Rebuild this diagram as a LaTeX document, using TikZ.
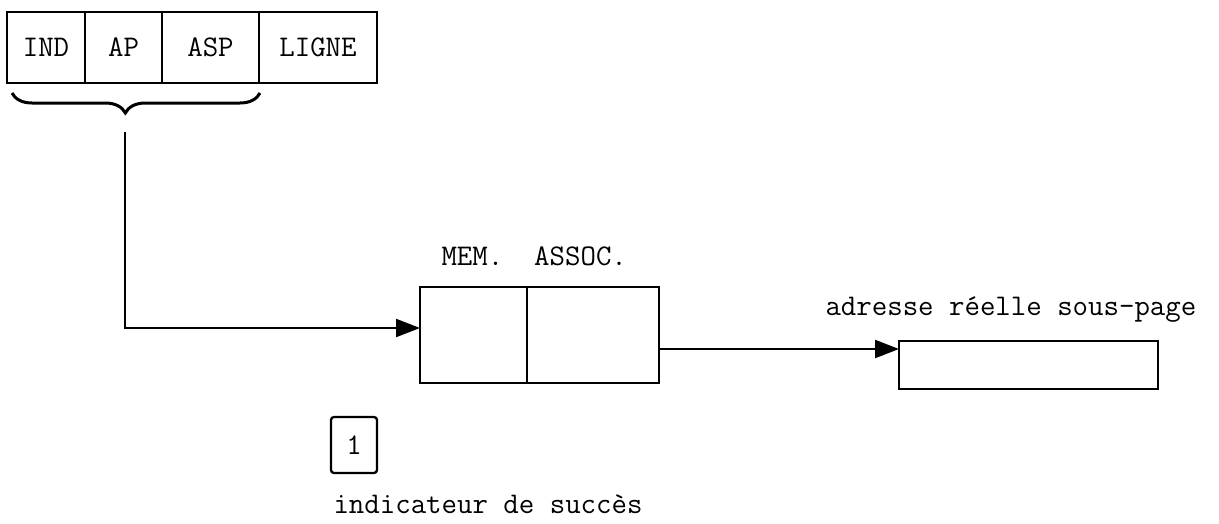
\documentclass[tikz,border=0pt]{standalone}
\usepackage{tikz}
\usetikzlibrary{positioning,arrows.meta,decorations.pathreplacing}

\begin{document}
\begin{tikzpicture}[
  x=1pt, y=-1pt,
  font=\ttfamily\fontsize{30}{34}\selectfont,
  cell/.style={draw, line width=2.3pt, inner sep=0pt, outer sep=0pt, minimum height=71pt},
  memcell/.style={draw, line width=2.3pt, inner sep=0pt, outer sep=0pt, minimum height=96pt},
  box/.style={draw, line width=2.3pt, inner sep=0pt, outer sep=0pt},
  arr/.style={-{Triangle[length=24pt,width=18pt]}, line width=2.3pt}
]
  \useasboundingbox (0,0) rectangle (1219,523);
  % adresse virtuelle
  \node[cell, minimum width=78pt, anchor=north west] (ind) at (7,12) {IND};
  \node[cell, minimum width=77pt, right=0pt of ind] (ap) {AP};
  \node[cell, minimum width=97pt, right=0pt of ap] (asp) {ASP};
  \node[cell, minimum width=118pt, right=0pt of asp] (ligne) {LIGNE};
  \draw[line width=3pt, decorate, decoration={brace, mirror, amplitude=20pt, aspect=0.457}]
    (12,93) -- (260,93);
  \coordinate (tip) at (125,132);
  % memoire associative
  \node[memcell, minimum width=107pt, anchor=north west] (memA) at (420,287) {};
  \node[memcell, minimum width=132pt, right=0pt of memA] (memB) {};
  \node[anchor=base west] (memlbl) at (438,265) {MEM.\ \ ASSOC.};
  \node[box, minimum width=259pt, minimum height=48pt, anchor=north west] (res) at (899,341) {};
  \node[anchor=base west] (reslbl) at (822,315) {adresse réelle sous-page};
  \node[box, rounded corners=3pt, minimum width=46pt, minimum height=56pt, anchor=north west] (flag) at (331,417) {1};
  \node[anchor=base west] (flaglbl) at (330,513) {indicateur de succès};
  \draw[arr] (tip) |- ([yshift=7pt]memA.west);
  \draw[arr] ([yshift=-14pt]memB.east) -- ([yshift=-14pt]memB.east -| res.west);
\end{tikzpicture}
\end{document}
